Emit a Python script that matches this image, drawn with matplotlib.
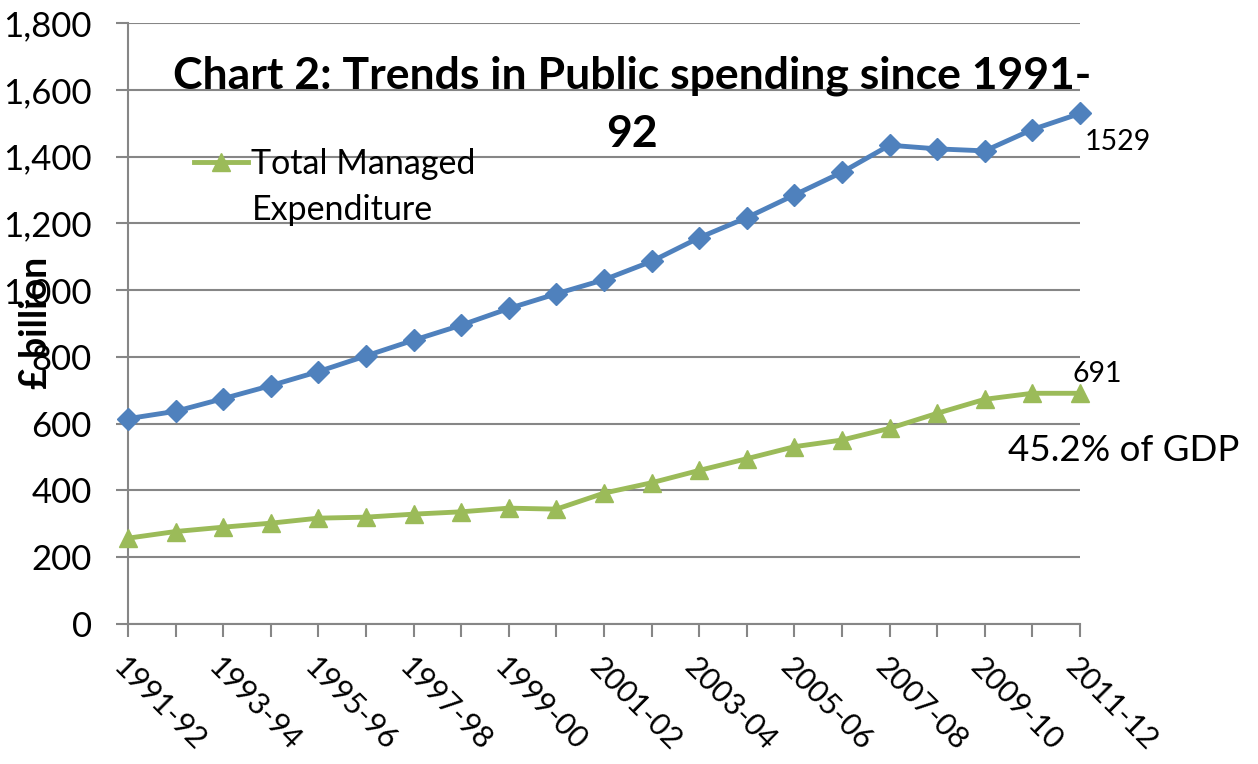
import numpy as np
import matplotlib
matplotlib.use("Agg")
import matplotlib.pyplot as plt
from matplotlib.lines import Line2D

plt.rcParams['font.family'] = ['Lato', 'DejaVu Sans']

years = ["1991-92", "1992-93", "1993-94", "1994-95", "1995-96", "1996-97", "1997-98",
         "1998-99", "1999-00", "2000-01", "2001-02", "2002-03", "2003-04", "2004-05",
         "2005-06", "2006-07", "2007-08", "2008-09", "2009-10", "2010-11", "2011-12"]
# blue series (unlabelled in the legend)
total_blue = [615, 637, 675, 714, 756, 803, 850, 895, 945, 989, 1031, 1086, 1157,
              1217, 1285, 1353, 1434, 1423, 1417, 1481, 1529]
# Total Managed Expenditure
tme = [257, 277, 290, 302, 317, 320, 329, 336, 347, 344, 392, 423, 460, 495,
       531, 551, 586, 631, 673, 691, 691]

blue = '#4F81BD'
green = '#9BBB59'
grey = '#868686'

fig = plt.figure(figsize=(12.58, 7.64), dpi=100)
ax = fig.add_axes([128/1258, 1-624/764, (1080-128)/1258, (624-23)/764])

x = np.arange(len(years))
ax.plot(x, total_blue, color=blue, lw=3.5, marker='D', ms=11, zorder=3, clip_on=False)
tme_line, = ax.plot(x, tme, color=green, lw=3.5, marker='^', ms=13, zorder=3, clip_on=False)

ax.set_xlim(0, len(years) - 1)
ax.set_ylim(0, 1800)
ax.set_yticks(np.arange(0, 1801, 200))
ax.set_yticklabels([f"{v:,}" for v in range(0, 1801, 200)], fontsize=25)
ax.set_xticks(x)
ax.set_xticklabels([y if i % 2 == 0 else "" for i, y in enumerate(years)],
                   fontsize=22, rotation=-45, ha='left', va='top', rotation_mode='anchor')

ax.grid(axis='y', color=grey, lw=1.5)
ax.set_axisbelow(True)
for s in ['top', 'right']:
    ax.spines[s].set_visible(False)
for s in ['left', 'bottom']:
    ax.spines[s].set_color(grey)
    ax.spines[s].set_linewidth(1.5)
ax.tick_params(axis='both', color=grey, width=1.5, length=9, direction='out')
ax.tick_params(axis='y', pad=17)
ax.tick_params(axis='x', pad=12)

fig.text(36/1258, 1-323/764, "£ billion", rotation=90, fontsize=27, fontweight='bold',
         ha='center', va='center')

fig.text(632/1258, 1-76/764, "Chart 2: Trends in Public spending since 1991-",
         fontsize=32, fontweight='bold', ha='center', va='center')
fig.text(632/1258, 1-134/764, "92", fontsize=32, fontweight='bold', ha='center', va='center')

# legend label wraps over two lines, marker sits on the first one
blank = Line2D([], [], linestyle='none')
ax.legend([tme_line, blank], ["Total Managed", "Expenditure"], loc='upper left',
          bbox_to_anchor=(180/1258, 1-134/764), bbox_transform=fig.transFigure,
          frameon=False, fontsize=24.5, handlelength=1.6, handletextpad=0.1,
          labelspacing=0.42, borderaxespad=0)

ax.annotate("1529", (x[-1], total_blue[-1]), xytext=(5, -42), textcoords='offset pixels',
            fontsize=20.5, ha='left', va='bottom')
ax.annotate("691", (x[-1], tme[-1]), xytext=(-7, 6), textcoords='offset pixels',
            fontsize=20.5, ha='left', va='bottom')
fig.text(1008/1258, 1-450/764, "45.2% of GDP", fontsize=26.5, ha='left', va='center')

fig.savefig("out.png", dpi=100)
